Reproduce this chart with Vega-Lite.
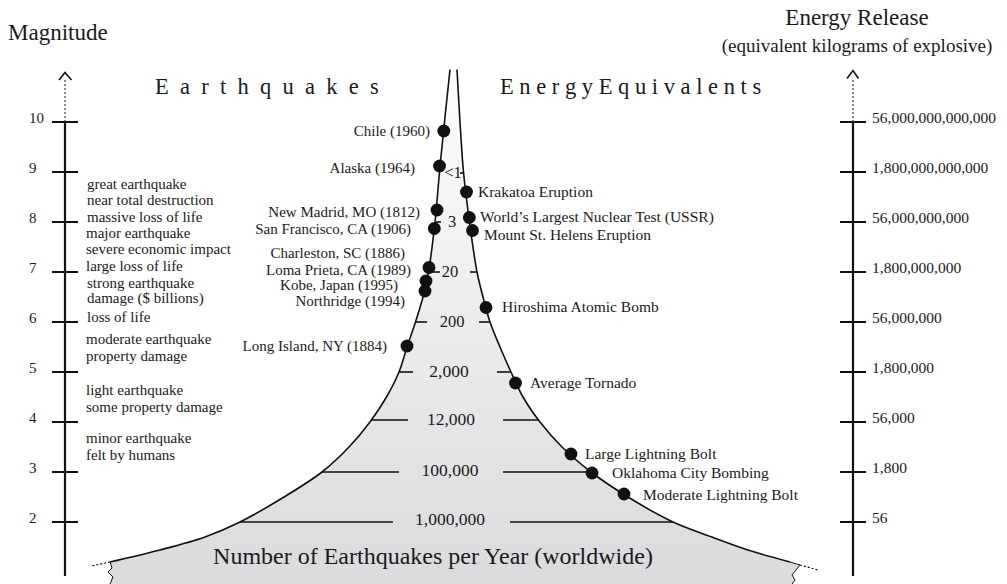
{
  "$schema": "https://vega.github.io/schema/vega-lite/v6.json",
  "width": 1007,
  "height": 584,
  "padding": 0,
  "autosize": "none",
  "background": "white",
  "config": {
    "view": {"stroke": null},
    "text": {"font": "Liberation Serif", "color": "#1a1a1a"}
  },
  "datasets": {
    "funnel": [
      {"m": 11.05, "x": 450, "x2": 457},
      {"m": 10, "x": 444.5, "x2": 460},
      {"m": 9, "x": 439.5, "x2": 463.5},
      {"m": 8, "x": 435, "x2": 469.5},
      {"m": 7, "x": 428.5, "x2": 477},
      {"m": 6.5, "x": 423, "x2": 483},
      {"m": 6, "x": 415.5, "x2": 490},
      {"m": 5.5, "x": 407, "x2": 500},
      {"m": 5, "x": 399, "x2": 511},
      {"m": 4.5, "x": 386.5, "x2": 523},
      {"m": 4, "x": 370, "x2": 540},
      {"m": 3.5, "x": 349, "x2": 562},
      {"m": 3, "x": 322, "x2": 591},
      {"m": 2.5, "x": 284, "x2": 628},
      {"m": 2, "x": 240, "x2": 673},
      {"m": 1.7, "x": 205, "x2": 712},
      {"m": 1.44, "x": 160, "x2": 748},
      {"m": 1.2, "x": 110, "x2": 790}
    ],
    "base": [
      {"m": 1.2, "x": 110, "x2": 790},
      {"m": 1.14, "x": 111, "x2": 800},
      {"m": 1.08, "x": 112, "x2": 797.6},
      {"m": 1.0, "x": 108, "x2": 794.4},
      {"m": 0.94, "x": 111, "x2": 792},
      {"m": 0.9, "x": 113, "x2": 793.2},
      {"m": 0.84, "x": 111.7, "x2": 795},
      {"m": 0.7, "x": 110, "x2": 792}
    ],
    "zig": [
      {"g": "L", "i": 1, "x": 110, "m": 1.2},
      {"g": "L", "i": 2, "x": 112, "m": 1.08},
      {"g": "L", "i": 3, "x": 108, "m": 1.0},
      {"g": "L", "i": 4, "x": 113, "m": 0.9},
      {"g": "L", "i": 5, "x": 110, "m": 0.76},
      {"g": "R", "i": 1, "x": 790, "m": 1.2},
      {"g": "R", "i": 2, "x": 800, "m": 1.14},
      {"g": "R", "i": 3, "x": 792, "m": 0.94},
      {"g": "R", "i": 4, "x": 795, "m": 0.84},
      {"g": "R", "i": 5, "x": 792, "m": 0.76}
    ],
    "ext": [
      {"g": "L", "i": 1, "x": 110, "m": 1.2},
      {"g": "L", "i": 2, "x": 91, "m": 1.12},
      {"g": "R", "i": 1, "x": 800, "m": 1.14},
      {"g": "R", "i": 2, "x": 818, "m": 1.04}
    ],
    "segments": [
      {"x": 460, "x2": 464, "m": 8.98},
      {"x": 436, "x2": 441, "m": 8.0},
      {"x": 465, "x2": 469, "m": 8.0},
      {"x": 429, "x2": 440, "m": 7.0},
      {"x": 470, "x2": 477, "m": 7.0},
      {"x": 415.5, "x2": 427, "m": 6.0},
      {"x": 479, "x2": 490, "m": 6.0},
      {"x": 399, "x2": 413, "m": 5.0},
      {"x": 497, "x2": 511, "m": 5.0},
      {"x": 371.5, "x2": 408, "m": 4.04},
      {"x": 503, "x2": 538.5, "m": 4.04},
      {"x": 322, "x2": 399, "m": 3.0},
      {"x": 503, "x2": 591, "m": 3.0},
      {"x": 240, "x2": 393, "m": 2.0},
      {"x": 510, "x2": 673, "m": 2.0}
    ],
    "countsSmall": [
      {"label": "<1", "x": 453, "m": 8.98},
      {"label": "3", "x": 452, "m": 8.0},
      {"label": "20", "x": 450, "m": 7.0},
      {"label": "200", "x": 452, "m": 6.0}
    ],
    "countsBig": [
      {"label": "2,000", "x": 449, "m": 5.0},
      {"label": "12,000", "x": 451, "m": 4.04},
      {"label": "100,000", "x": 450, "m": 3.02},
      {"label": "1,000,000", "x": 450, "m": 2.04}
    ],
    "axisSolid": [
      {"x": 65, "m": 0.92, "m2": 10},
      {"x": 853, "m": 0.92, "m2": 10}
    ],
    "axisDash": [
      {"x": 65, "m": 10, "m2": 10.86},
      {"x": 853, "m": 10, "m2": 10.88}
    ],
    "arrows": [
      {"g": "L", "i": 1, "x": 59, "m": 10.84},
      {"g": "L", "i": 2, "x": 65, "m": 10.99},
      {"g": "L", "i": 3, "x": 71.5, "m": 10.84},
      {"g": "R", "i": 1, "x": 847, "m": 10.87},
      {"g": "R", "i": 2, "x": 853, "m": 11.03},
      {"g": "R", "i": 3, "x": 858.5, "m": 10.87}
    ],
    "ticks": [
      {"x": 52, "x2": 78, "m": 10}, {"x": 52, "x2": 78, "m": 9}, {"x": 52, "x2": 78, "m": 8},
      {"x": 52, "x2": 78, "m": 7}, {"x": 52, "x2": 78, "m": 6}, {"x": 52, "x2": 78, "m": 5},
      {"x": 52, "x2": 78, "m": 4}, {"x": 52, "x2": 78, "m": 3}, {"x": 52, "x2": 78, "m": 2},
      {"x": 840, "x2": 866, "m": 10}, {"x": 840, "x2": 866, "m": 9}, {"x": 840, "x2": 866, "m": 8},
      {"x": 840, "x2": 866, "m": 7}, {"x": 840, "x2": 866, "m": 6}, {"x": 840, "x2": 866, "m": 5},
      {"x": 840, "x2": 866, "m": 4}, {"x": 840, "x2": 866, "m": 3}, {"x": 840, "x2": 866, "m": 2}
    ],
    "magLabels": [
      {"label": "10", "x": 29, "m": 10}, {"label": "9", "x": 29, "m": 9}, {"label": "8", "x": 29, "m": 8},
      {"label": "7", "x": 29, "m": 7}, {"label": "6", "x": 29, "m": 6}, {"label": "5", "x": 29, "m": 5},
      {"label": "4", "x": 29, "m": 4}, {"label": "3", "x": 29, "m": 3}, {"label": "2", "x": 29, "m": 2}
    ],
    "energyLabels": [
      {"label": "56,000,000,000,000", "x": 872, "m": 10},
      {"label": "1,800,000,000,000", "x": 872, "m": 9},
      {"label": "56,000,000,000", "x": 872, "m": 8},
      {"label": "1,800,000,000", "x": 872, "m": 7},
      {"label": "56,000,000", "x": 872, "m": 6},
      {"label": "1,800,000", "x": 872, "m": 5},
      {"label": "56,000", "x": 872, "m": 4},
      {"label": "1,800", "x": 872, "m": 3},
      {"label": "56", "x": 872, "m": 2}
    ],
    "descriptors": [
      {"label": "great earthquake", "x": 87, "m": 8.76},
      {"label": "near total destruction", "x": 87, "m": 8.44},
      {"label": "massive loss of life", "x": 87, "m": 8.1},
      {"label": "major earthquake", "x": 86, "m": 7.78},
      {"label": "severe economic impact", "x": 86, "m": 7.46},
      {"label": "large loss of life", "x": 86, "m": 7.12},
      {"label": "strong earthquake", "x": 87, "m": 6.78},
      {"label": "damage ($ billions)", "x": 87, "m": 6.48},
      {"label": "loss of life", "x": 87, "m": 6.1},
      {"label": "moderate earthquake", "x": 86, "m": 5.66},
      {"label": "property damage", "x": 86, "m": 5.32},
      {"label": "light earthquake", "x": 86, "m": 4.64},
      {"label": "some property damage", "x": 86, "m": 4.3},
      {"label": "minor earthquake", "x": 86, "m": 3.68},
      {"label": "felt by humans", "x": 86, "m": 3.34}
    ],
    "dots": [
      {"event": "Chile (1960)", "x": 443.8, "m": 9.82},
      {"event": "Alaska (1964)", "x": 439.5, "m": 9.12},
      {"event": "New Madrid, MO (1812)", "x": 437, "m": 8.24},
      {"event": "San Francisco, CA (1906)", "x": 434.3, "m": 7.87},
      {"event": "Loma Prieta, CA (1989)", "x": 429, "m": 7.09},
      {"event": "Kobe, Japan (1995)", "x": 426, "m": 6.82},
      {"event": "Northridge (1994)", "x": 425, "m": 6.62},
      {"event": "Long Island, NY (1884)", "x": 407, "m": 5.52},
      {"event": "Krakatoa Eruption", "x": 466.5, "m": 8.6},
      {"event": "World’s Largest Nuclear Test (USSR)", "x": 469.3, "m": 8.09},
      {"event": "Mount St. Helens Eruption", "x": 472.5, "m": 7.83},
      {"event": "Hiroshima Atomic Bomb", "x": 486, "m": 6.29},
      {"event": "Average Tornado", "x": 515.5, "m": 4.78},
      {"event": "Large Lightning Bolt", "x": 571, "m": 3.36},
      {"event": "Oklahoma City Bombing", "x": 592, "m": 2.98},
      {"event": "Moderate Lightning Bolt", "x": 624, "m": 2.56}
    ],
    "leftLabels": [
      {"label": "Chile (1960)", "x": 430, "m": 9.82},
      {"label": "Alaska (1964)", "x": 415, "m": 9.08},
      {"label": "New Madrid, MO (1812)", "x": 420, "m": 8.2},
      {"label": "San Francisco, CA (1906)", "x": 411, "m": 7.86},
      {"label": "Charleston, SC (1886)", "x": 405, "m": 7.38},
      {"label": "Loma Prieta, CA (1989)", "x": 411, "m": 7.04},
      {"label": "Kobe, Japan (1995)", "x": 398, "m": 6.74},
      {"label": "Northridge (1994)", "x": 405, "m": 6.43},
      {"label": "Long Island, NY (1884)", "x": 387, "m": 5.52}
    ],
    "rightLabels": [
      {"label": "Krakatoa Eruption", "x": 478, "m": 8.6},
      {"label": "World’s Largest Nuclear Test (USSR)", "x": 480, "m": 8.11},
      {"label": "Mount St. Helens Eruption", "x": 484, "m": 7.74},
      {"label": "Hiroshima Atomic Bomb", "x": 502, "m": 6.3},
      {"label": "Average Tornado", "x": 530, "m": 4.78},
      {"label": "Large Lightning Bolt", "x": 585, "m": 3.36},
      {"label": "Oklahoma City Bombing", "x": 612, "m": 2.98},
      {"label": "Moderate Lightning Bolt", "x": 643, "m": 2.54}
    ],
    "titleLeft": [
      {"label": "Magnitude", "x": 8, "m": 11.78}
    ],
    "titleRight": [
      {"label": "Energy Release", "x": 857, "m": 12.08}
    ],
    "subtitleRight": [
      {"label": "(equivalent kilograms of explosive)", "x": 857, "m": 11.52}
    ],
    "sectionLeft": [
      {"label": "E\u00a0\u00a0a\u00a0\u00a0r\u00a0\u00a0t\u00a0\u00a0h\u00a0\u00a0q\u00a0\u00a0u\u00a0\u00a0a\u00a0\u00a0k\u00a0\u00a0e\u00a0\u00a0s", "x": 155, "m": 10.7}
    ],
    "sectionRight": [
      {"label": "E n e r g y E q u i v a l e n t s", "x": 500, "m": 10.7}
    ],
    "bottomTitle": [
      {"label": "Number of Earthquakes per Year (worldwide)", "x": 433, "m": 1.3}
    ]
  },
  "encoding": {
    "x": {"field": "x", "type": "quantitative", "scale": {"domain": [0, 1007], "nice": false, "zero": false}, "axis": null},
    "y": {"field": "m", "type": "quantitative", "scale": {"domain": [0.76, 12.44], "nice": false, "zero": false}, "axis": null}
  },
  "layer": [
    {
      "data": {"name": "funnel"},
      "mark": {"type": "area", "orient": "horizontal", "interpolate": "catmull-rom",
        "fill": {"gradient": "linear", "x1": 0, "y1": 0, "x2": 0, "y2": 1,
          "stops": [{"offset": 0, "color": "#fdfdfd"}, {"offset": 1, "color": "#dcdcde"}]},
        "fillOpacity": 1, "stroke": null},
      "encoding": {"x2": {"field": "x2"}}
    },
    {
      "data": {"name": "base"},
      "mark": {"type": "area", "orient": "horizontal", "interpolate": "linear", "fill": "#dcdcde", "fillOpacity": 1, "stroke": null},
      "encoding": {"x2": {"field": "x2"}}
    },
    {
      "data": {"name": "funnel"},
      "mark": {"type": "line", "interpolate": "catmull-rom", "color": "#111", "strokeWidth": 1.6},
      "encoding": {"order": {"field": "m", "type": "quantitative"}}
    },
    {
      "data": {"name": "funnel"},
      "mark": {"type": "line", "interpolate": "catmull-rom", "color": "#111", "strokeWidth": 1.6},
      "encoding": {
        "x": {"field": "x2", "type": "quantitative", "scale": {"domain": [0, 1007], "nice": false, "zero": false}, "axis": null},
        "order": {"field": "m", "type": "quantitative"}
      }
    },
    {
      "data": {"name": "zig"},
      "mark": {"type": "line", "color": "#111", "strokeWidth": 1},
      "encoding": {"detail": {"field": "g"}, "order": {"field": "i", "type": "quantitative"}}
    },
    {
      "data": {"name": "ext"},
      "mark": {"type": "line", "color": "#111", "strokeWidth": 1.2, "strokeDash": [2, 2]},
      "encoding": {"detail": {"field": "g"}, "order": {"field": "i", "type": "quantitative"}}
    },
    {
      "data": {"name": "segments"},
      "mark": {"type": "rule", "color": "#111", "strokeWidth": 1.6},
      "encoding": {"x2": {"field": "x2"}}
    },
    {
      "data": {"name": "countsSmall"},
      "mark": {"type": "text", "align": "center", "baseline": "middle", "fontSize": 16.5},
      "encoding": {"text": {"field": "label"}}
    },
    {
      "data": {"name": "countsBig"},
      "mark": {"type": "text", "align": "center", "baseline": "middle", "fontSize": 17.5},
      "encoding": {"text": {"field": "label"}}
    },
    {
      "data": {"name": "axisSolid"},
      "mark": {"type": "rule", "color": "#111", "strokeWidth": 2.2},
      "encoding": {"y2": {"field": "m2"}}
    },
    {
      "data": {"name": "axisDash"},
      "mark": {"type": "rule", "color": "#111", "strokeWidth": 1, "strokeDash": [2, 2]},
      "encoding": {"y2": {"field": "m2"}}
    },
    {
      "data": {"name": "arrows"},
      "mark": {"type": "line", "color": "#111", "strokeWidth": 1.6},
      "encoding": {"detail": {"field": "g"}, "order": {"field": "i", "type": "quantitative"}}
    },
    {
      "data": {"name": "ticks"},
      "mark": {"type": "rule", "color": "#111", "strokeWidth": 2},
      "encoding": {"x2": {"field": "x2"}}
    },
    {
      "data": {"name": "magLabels"},
      "mark": {"type": "text", "align": "left", "baseline": "middle", "fontSize": 15, "dy": -4},
      "encoding": {"text": {"field": "label"}}
    },
    {
      "data": {"name": "energyLabels"},
      "mark": {"type": "text", "align": "left", "baseline": "middle", "fontSize": 15.5, "dy": -4},
      "encoding": {"text": {"field": "label"}}
    },
    {
      "data": {"name": "descriptors"},
      "mark": {"type": "text", "align": "left", "baseline": "middle", "fontSize": 15},
      "encoding": {"text": {"field": "label"}}
    },
    {
      "data": {"name": "dots"},
      "mark": {"type": "point", "shape": "circle", "filled": true, "color": "#111", "opacity": 1, "size": 165},
      "encoding": {"tooltip": {"field": "event"}}
    },
    {
      "data": {"name": "leftLabels"},
      "mark": {"type": "text", "align": "right", "baseline": "middle", "fontSize": 15},
      "encoding": {"text": {"field": "label"}}
    },
    {
      "data": {"name": "rightLabels"},
      "mark": {"type": "text", "align": "left", "baseline": "middle", "fontSize": 15.5},
      "encoding": {"text": {"field": "label"}}
    },
    {
      "data": {"name": "titleLeft"},
      "mark": {"type": "text", "align": "left", "baseline": "middle", "fontSize": 23},
      "encoding": {"text": {"field": "label"}}
    },
    {
      "data": {"name": "titleRight"},
      "mark": {"type": "text", "align": "center", "baseline": "middle", "fontSize": 23},
      "encoding": {"text": {"field": "label"}}
    },
    {
      "data": {"name": "subtitleRight"},
      "mark": {"type": "text", "align": "center", "baseline": "middle", "fontSize": 19},
      "encoding": {"text": {"field": "label"}}
    },
    {
      "data": {"name": "sectionLeft"},
      "mark": {"type": "text", "align": "left", "baseline": "middle", "fontSize": 22.5},
      "encoding": {"text": {"field": "label"}}
    },
    {
      "data": {"name": "sectionRight"},
      "mark": {"type": "text", "align": "left", "baseline": "middle", "fontSize": 22.5},
      "encoding": {"text": {"field": "label"}}
    },
    {
      "data": {"name": "bottomTitle"},
      "mark": {"type": "text", "align": "center", "baseline": "middle", "fontSize": 24},
      "encoding": {"text": {"field": "label"}}
    }
  ]
}
